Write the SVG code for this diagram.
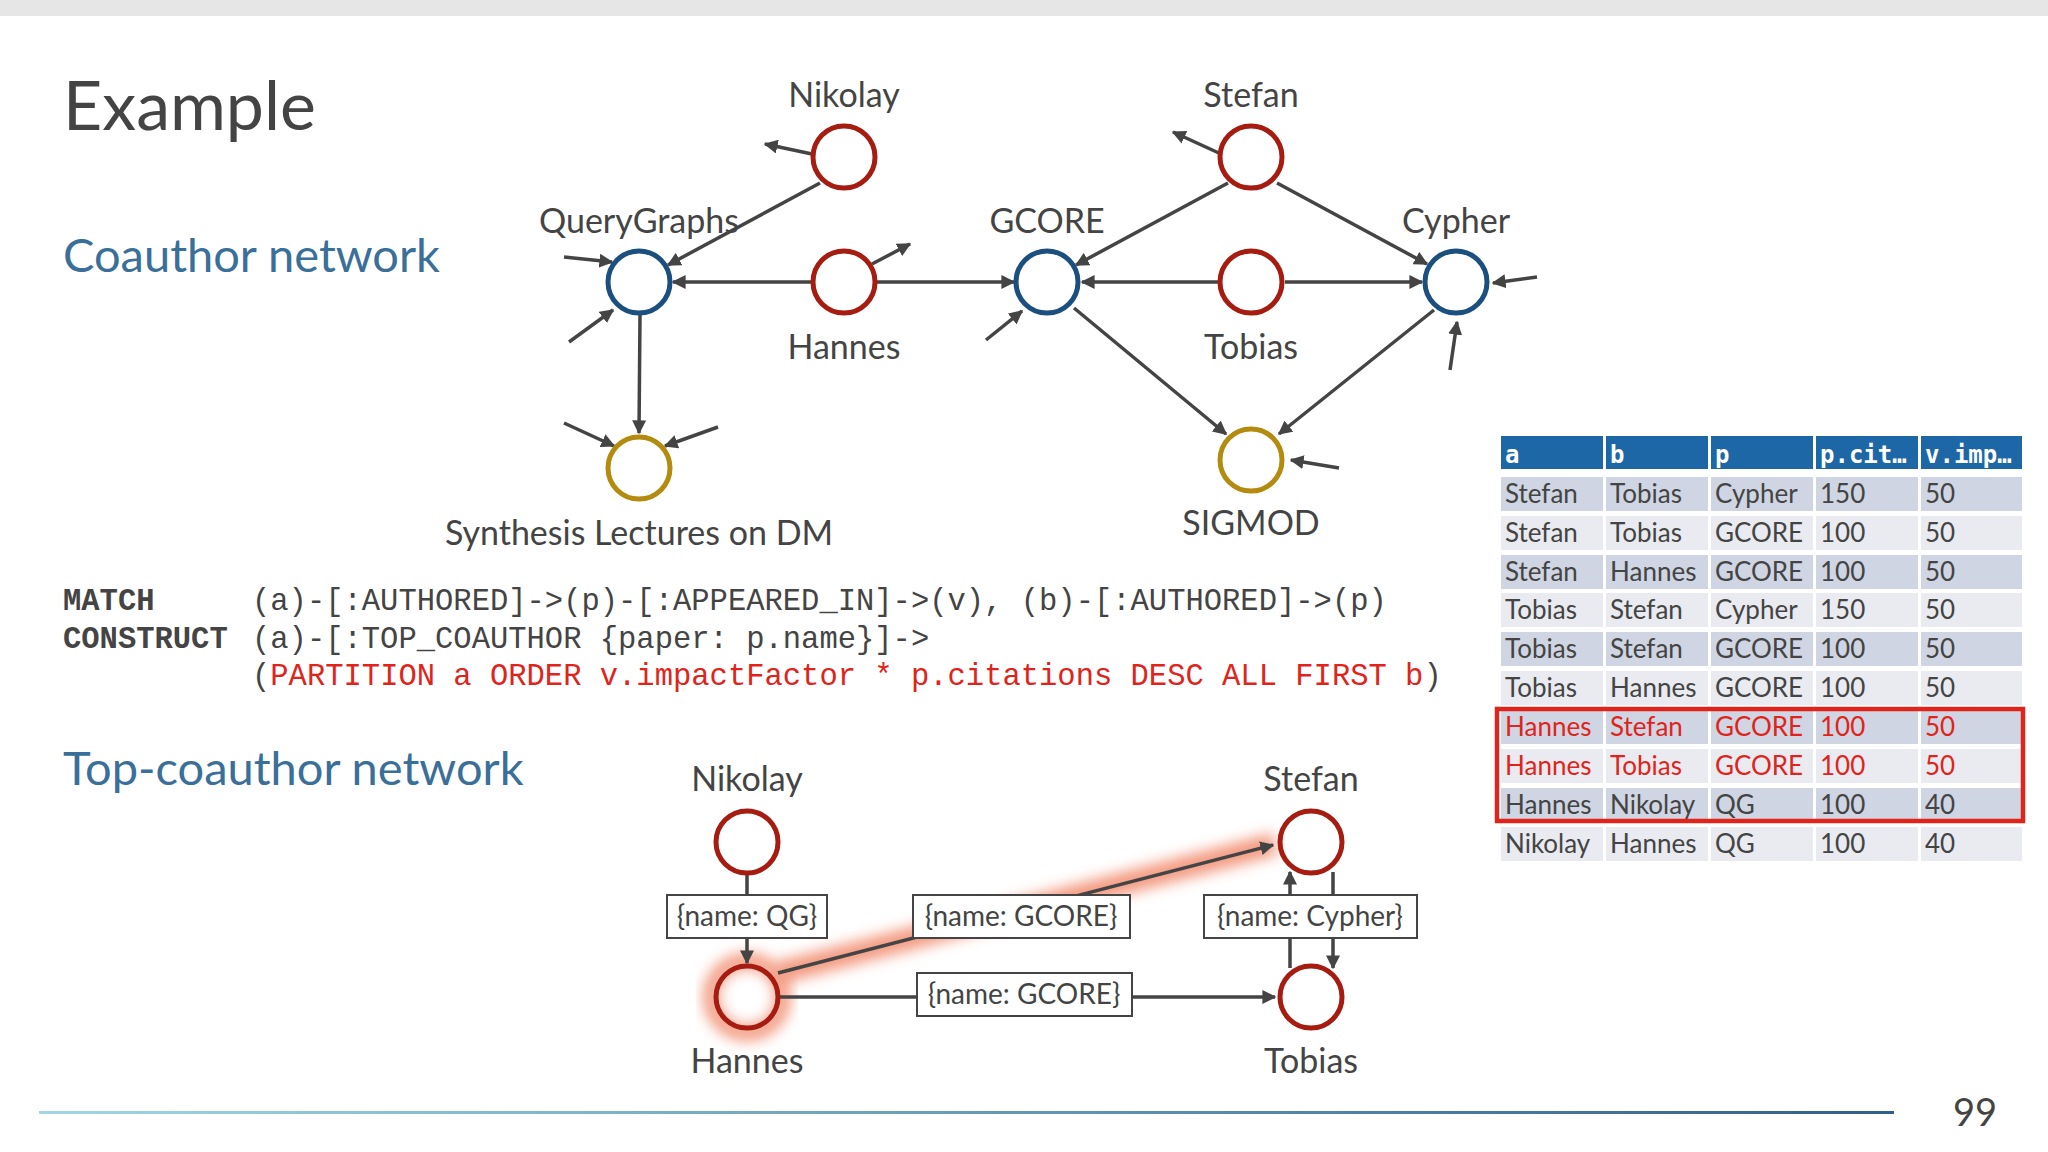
<svg xmlns="http://www.w3.org/2000/svg" width="2048" height="1152" viewBox="0 0 2048 1152">
<defs>
<marker id="ah" viewBox="0 0 10 10" refX="9" refY="5" markerWidth="4" markerHeight="4" orient="auto-start-reverse" markerUnits="strokeWidth"><path d="M0,0 L10,5 L0,10 z" fill="#444"/></marker>
<filter id="blur" x="-20%" y="-50%" width="140%" height="200%"><feGaussianBlur stdDeviation="7"/></filter>
<linearGradient id="lg" x1="0" x2="1" y1="0" y2="0"><stop offset="0" stop-color="#9fd8e0"/><stop offset="1" stop-color="#2f5f8f"/></linearGradient>
</defs>
<style>
text{font-family:Lato,"Open Sans",sans-serif;fill:#444}
.lbl{font-size:34px;text-anchor:middle}
.red{fill:none;stroke:#a61c10;stroke-width:5}
.blue{fill:none;stroke:#1b4f7f;stroke-width:5}
.gold{fill:none;stroke:#b38b0f;stroke-width:5}
.e{stroke:#444;stroke-width:3.5;fill:none;marker-end:url(#ah)}
.code{font-family:"Liberation Mono",monospace;font-size:30.5px}
.b{font-weight:bold}
.rc{fill:#e0241b}
.th{font-family:"DejaVu Sans Mono",monospace;font-weight:bold;font-size:24px;fill:#fff}
.td{font-size:26px}
.bx{fill:#fff;stroke:#444;stroke-width:2}
.bt{font-size:28px;text-anchor:middle}
.glow{stroke:#f08060;stroke-width:22;fill:none;filter:url(#blur);opacity:0.8}
</style>
<rect x="0" y="0" width="2048" height="16" fill="#e6e6e6"/>
<text x="63" y="130" style="font-size:68px">Example</text>
<text x="63" y="272" style="font-size:47px;fill:#3a6f9a">Coauthor network</text>
<text x="63" y="785" style="font-size:47px;fill:#3a6f9a">Top-coauthor network</text>

<g id="connectors">
<line class="e" x1="820" y1="183" x2="668" y2="265"/>
<line class="e" x1="812" y1="154" x2="765" y2="144"/>
<line class="e" x1="812" y1="282" x2="673" y2="282"/>
<line class="e" x1="875" y1="282" x2="1014" y2="282"/>
<line class="e" x1="872" y1="264" x2="910" y2="244"/>
<line class="e" x1="564" y1="257" x2="612" y2="262"/>
<line class="e" x1="569" y1="342" x2="613" y2="310"/>
<line class="e" x1="640" y1="315" x2="639" y2="433"/>
<line class="e" x1="564" y1="423" x2="614" y2="446"/>
<line class="e" x1="718" y1="427" x2="665" y2="446"/>
<line class="e" x1="986" y1="340" x2="1022" y2="311"/>
<line class="e" x1="1228" y1="183" x2="1076" y2="265"/>
<line class="e" x1="1221" y1="154" x2="1173" y2="132"/>
<line class="e" x1="1277" y1="183" x2="1427" y2="264"/>
<line class="e" x1="1220" y1="282" x2="1082" y2="282"/>
<line class="e" x1="1285" y1="282" x2="1422" y2="282"/>
<line class="e" x1="1537" y1="277" x2="1493" y2="283"/>
<line class="e" x1="1450" y1="370" x2="1457" y2="322"/>
<line class="e" x1="1074" y1="308" x2="1226" y2="434"/>
<line class="e" x1="1434" y1="310" x2="1279" y2="434"/>
<line class="e" x1="1339" y1="468" x2="1291" y2="460"/>

<line class="glow" x1="778" y1="973" x2="1275" y2="844"/>
<line class="glow" x1="780" y1="997" x2="1277" y2="997"/>
<circle cx="747" cy="997" r="36" fill="none" stroke="#f08060" stroke-width="16" filter="url(#blur)" opacity="0.8"/>
<line class="e" x1="747" y1="874" x2="747" y2="963"/>
<line class="e" x1="778" y1="973" x2="1273" y2="845"/>
<line class="e" x1="780" y1="997" x2="1275" y2="997"/>
<line class="e" x1="1290" y1="968" x2="1290" y2="872"/>
<line class="e" x1="1333" y1="872" x2="1333" y2="968"/>
</g>

<g id="n-nikolay"><circle class="red" cx="844" cy="157" r="31"/><text class="lbl" x="844" y="107">Nikolay</text></g>
<g id="n-stefan"><circle class="red" cx="1251" cy="157" r="31"/><text class="lbl" x="1251" y="107">Stefan</text></g>
<g id="n-qg"><circle class="blue" cx="639" cy="282" r="31"/><text class="lbl" x="639" y="233">QueryGraphs</text></g>
<g id="n-hannes"><circle class="red" cx="844" cy="282" r="31"/><text class="lbl" x="844" y="359">Hannes</text></g>
<g id="n-gcore"><circle class="blue" cx="1047" cy="282" r="31"/><text class="lbl" x="1047" y="233">GCORE</text></g>
<g id="n-tobias"><circle class="red" cx="1251" cy="282" r="31"/><text class="lbl" x="1251" y="359">Tobias</text></g>
<g id="n-cypher"><circle class="blue" cx="1456" cy="282" r="31"/><text class="lbl" x="1456" y="233">Cypher</text></g>
<g id="n-synth"><circle class="gold" cx="639" cy="468" r="31"/><text class="lbl" x="639" y="545">Synthesis Lectures on DM</text></g>
<g id="n-sigmod"><circle class="gold" cx="1251" cy="460" r="31"/><text class="lbl" x="1251" y="535">SIGMOD</text></g>

<g id="query">
<text class="code b" x="63" y="610">MATCH</text>
<text class="code b" x="63" y="648">CONSTRUCT</text>
<text class="code" x="252" y="610">(a)-[:AUTHORED]-&gt;(p)-[:APPEARED_IN]-&gt;(v), (b)-[:AUTHORED]-&gt;(p)</text>
<text class="code" x="252" y="648">(a)-[:TOP_COAUTHOR {paper: p.name}]-&gt;</text>
<text class="code" x="252" y="685">(<tspan class="rc">PARTITION a ORDER v.impactFactor * p.citations DESC ALL FIRST b</tspan>)</text>
</g>

<g id="table">
<rect x="1501" y="436" width="102" height="33" fill="#1e67a6"/><rect x="1606" y="436" width="102" height="33" fill="#1e67a6"/><rect x="1711" y="436" width="102" height="33" fill="#1e67a6"/><rect x="1816" y="436" width="102" height="33" fill="#1e67a6"/><rect x="1921" y="436" width="101" height="33" fill="#1e67a6"/>
<text class="th" x="1505" y="463">a</text><text class="th" x="1610" y="463">b</text><text class="th" x="1715" y="463">p</text><text class="th" x="1820" y="463">p.cit…</text><text class="th" x="1925" y="463">v.imp…</text>
<g fill="#cfd5e2">
<rect x="1501" y="477" width="521" height="34"/><rect x="1501" y="555" width="521" height="34"/><rect x="1501" y="632" width="521" height="34"/><rect x="1501" y="710" width="521" height="34"/><rect x="1501" y="788" width="521" height="34"/>
</g>
<g fill="#e9ebf0">
<rect x="1501" y="516" width="521" height="34"/><rect x="1501" y="593" width="521" height="34"/><rect x="1501" y="671" width="521" height="34"/><rect x="1501" y="749" width="521" height="34"/><rect x="1501" y="827" width="521" height="34"/>
</g>
<g fill="#fff"><rect x="1603" y="477" width="3" height="384"/><rect x="1708" y="477" width="3" height="384"/><rect x="1813" y="477" width="3" height="384"/><rect x="1918" y="477" width="3" height="384"/></g>
<g class="td">
<text class="td" x="1505" y="503">Stefan</text><text class="td" x="1610" y="503">Tobias</text><text class="td" x="1715" y="503">Cypher</text><text class="td" x="1820" y="503">150</text><text class="td" x="1925" y="503">50</text>
<text class="td" x="1505" y="542">Stefan</text><text class="td" x="1610" y="542">Tobias</text><text class="td" x="1715" y="542">GCORE</text><text class="td" x="1820" y="542">100</text><text class="td" x="1925" y="542">50</text>
<text class="td" x="1505" y="581">Stefan</text><text class="td" x="1610" y="581">Hannes</text><text class="td" x="1715" y="581">GCORE</text><text class="td" x="1820" y="581">100</text><text class="td" x="1925" y="581">50</text>
<text class="td" x="1505" y="619">Tobias</text><text class="td" x="1610" y="619">Stefan</text><text class="td" x="1715" y="619">Cypher</text><text class="td" x="1820" y="619">150</text><text class="td" x="1925" y="619">50</text>
<text class="td" x="1505" y="658">Tobias</text><text class="td" x="1610" y="658">Stefan</text><text class="td" x="1715" y="658">GCORE</text><text class="td" x="1820" y="658">100</text><text class="td" x="1925" y="658">50</text>
<text class="td" x="1505" y="697">Tobias</text><text class="td" x="1610" y="697">Hannes</text><text class="td" x="1715" y="697">GCORE</text><text class="td" x="1820" y="697">100</text><text class="td" x="1925" y="697">50</text>
<text class="td rc" x="1505" y="736">Hannes</text><text class="td rc" x="1610" y="736">Stefan</text><text class="td rc" x="1715" y="736">GCORE</text><text class="td rc" x="1820" y="736">100</text><text class="td rc" x="1925" y="736">50</text>
<text class="td rc" x="1505" y="775">Hannes</text><text class="td rc" x="1610" y="775">Tobias</text><text class="td rc" x="1715" y="775">GCORE</text><text class="td rc" x="1820" y="775">100</text><text class="td rc" x="1925" y="775">50</text>
<text class="td" x="1505" y="814">Hannes</text><text class="td" x="1610" y="814">Nikolay</text><text class="td" x="1715" y="814">QG</text><text class="td" x="1820" y="814">100</text><text class="td" x="1925" y="814">40</text>
<text class="td" x="1505" y="853">Nikolay</text><text class="td" x="1610" y="853">Hannes</text><text class="td" x="1715" y="853">QG</text><text class="td" x="1820" y="853">100</text><text class="td" x="1925" y="853">40</text>
</g>
<rect x="1497" y="709" width="526" height="112" fill="none" stroke="#e0241b" stroke-width="4.5"/>
</g>

<g id="b-nikolay"><circle class="red" cx="747" cy="842" r="31" fill="#fff"/><text class="lbl" x="747" y="791">Nikolay</text></g>
<g id="b-hannes"><circle class="red" cx="747" cy="997" r="31"/><text class="lbl" x="747" y="1073">Hannes</text></g>
<g id="b-stefan"><circle class="red" cx="1311" cy="842" r="31"/><text class="lbl" x="1311" y="791">Stefan</text></g>
<g id="b-tobias"><circle class="red" cx="1311" cy="997" r="31"/><text class="lbl" x="1311" y="1073">Tobias</text></g>

<g id="edge-labels">
<rect class="bx" x="667" y="895" width="160" height="43"/><text class="bt" x="747" y="926">{name: QG}</text>
<rect class="bx" x="913" y="895" width="217" height="43"/><text class="bt" x="1021" y="926">{name: GCORE}</text>
<rect class="bx" x="917" y="973" width="215" height="43"/><text class="bt" x="1024" y="1004">{name: GCORE}</text>
<rect class="bx" x="1204" y="895" width="213" height="43"/><text class="bt" x="1310" y="926">{name: Cypher}</text>
</g>

<rect x="39" y="1111" width="1855" height="3" fill="url(#lg)"/>
<text x="1975" y="1126" style="font-size:38px;text-anchor:middle">99</text>
</svg>
